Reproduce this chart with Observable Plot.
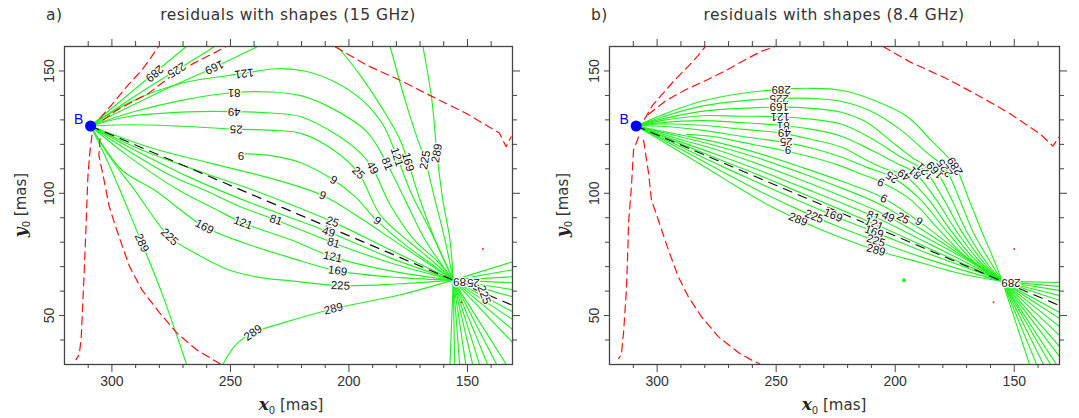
<!DOCTYPE html>
<html><head><meta charset="utf-8">
<script src="https://cdn.jsdelivr.net/npm/d3@7"></script>
<script src="https://cdn.jsdelivr.net/npm/@observablehq/plot@0.6"></script>
<style>
body{margin:0;background:#fff;}
#wrap{position:relative;width:1079px;height:418px;overflow:hidden;background:#fff;}
.panel{position:absolute;top:0;}
.t{position:absolute;top:6px;font-family:"DejaVu Sans",sans-serif;font-size:15.5px;letter-spacing:0.5px;color:#333;white-space:nowrap;z-index:2;}
.c{transform:translateX(-50%);}
.xl{position:absolute;top:394px;transform:translateX(-50%);font-family:"DejaVu Sans",sans-serif;font-size:15px;color:#333;white-space:nowrap;z-index:2;}
.yl{position:absolute;transform:translate(-50%,-50%) rotate(-90deg);font-family:"DejaVu Sans",sans-serif;font-size:15px;color:#333;white-space:nowrap;z-index:2;}
.v{font-family:"DejaVu Serif",serif;font-weight:bold;font-style:italic;font-size:17px;color:#222;}
sub{font-size:10px;}
</style></head>
<body>
<div id="wrap">
  <div id="pa" class="panel" style="left:0px"></div>
  <div id="pb" class="panel" style="left:540px"></div>
  <div class="t" style="left:46px">a)</div>
  <div class="t c" style="left:288px">residuals with shapes (15 GHz)</div>
  <div class="t" style="left:591px">b)</div>
  <div class="t c" style="left:834px">residuals with shapes (8.4 GHz)</div>
  <div class="xl" style="left:291px"><span class="v">x</span><sub>0</sub> [mas]</div>
  <div class="xl" style="left:834px"><span class="v">x</span><sub>0</sub> [mas]</div>
  <div class="yl" style="left:21px;top:205px"><span class="v">y</span><sub>0</sub> [mas]</div>
  <div class="yl" style="left:563px;top:205px"><span class="v">y</span><sub>0</sub> [mas]</div>
</div>
<script>
// ---------- axis ticks ----------
const majorX = [300, 250, 200, 150];
const minorX = [310, 290, 280, 270, 260, 240, 230, 220, 210, 190, 180, 170, 160, 140];
const majorY = [50, 100, 150];
const minorY = [40, 60, 70, 80, 90, 110, 120, 130, 140];

// ---------- special points ----------
const B_a = [309, 127.5], C_a = [156, 64.5];
const B_b = [308.8, 127.5], C_b = [155, 64];
const blackA = [[309, 127.5], [131, 54.2]];
const blackB = [[308.8, 127.5], [131, 54.1]];

// ---------- panel a: green contours (level, points) ----------
const greenA = [
  ["289", [[309,127.5],[268.6,160],[266,162]]],
  ["225", [[309,127.5],[285,143],[256.7,160],[254,162]]],
  ["169", [[309,127.5],[280,141.3],[256.8,151.5],[238.5,160],[235,161.5]]],
  ["121", [[309,127.5],[291.6,137.6],[270.6,145],[244.2,149],[230.8,150.9],[218.2,149.9],[205.7,145.4],[194.3,138],[185.5,127.8],[179.7,114.8],[173.4,99.3],[165.8,85],[156,64.5]]],
  ["81",  [[309,127.5],[291.6,133.1],[270.6,138],[248.4,141.2],[232.9,141.4],[220.3,139.9],[206.5,134.4],[192.3,125],[183.9,112],[176.3,97.3],[167.9,81],[156,64.5]]],
  ["49",  [[309,127.5],[292.9,131.4],[270.6,133.2],[248.4,133.4],[232.9,132.8],[220.3,131.3],[206.5,124.7],[195.2,116.5],[190.1,110.4],[182.6,95.3],[172.1,80.5],[163,72.5],[156,64.5]]],
  ["25",  [[309,127.5],[291.6,128],[270.6,127.4],[247.6,126.2],[232.9,125.8],[220.3,124.5],[206.5,117.7],[196,108.3],[186.8,91.2],[175,80.5],[165,72.5],[156,64.5]]],
  ["9",   [[245.5,116.2],[232.9,115.4],[220.3,112.5],[206.5,105.4],[197.3,98.5],[188.1,88.7],[176.3,78.9],[165.8,71.5],[156,64.5]]],
  ["9",   [[309,127.5],[283.2,118.5],[258.1,112.2],[232.9,106.1],[211.1,99.1],[195.2,89.9],[178.4,78.9],[165.8,70.8],[156,64.5]]],
  ["25",  [[309,127.5],[287.4,117.7],[262.3,108.7],[237.1,100.1],[206.9,88.3],[182.6,76.9],[156,64.5]]],
  ["49",  [[309,127.5],[289.5,117.2],[266.5,106.2],[241.3,96],[208.6,84.2],[182.6,73.6],[156,64.5]]],
  ["81",  [[309,127.5],[291.6,116.5],[274.8,107.1],[261,101.3],[245.5,94.4],[230.8,89.1],[206.5,79.7],[182.6,71.6],[156,64.5]]],
  ["121", [[309,127.5],[293.7,115.6],[271.9,101.3],[258.1,94.4],[244.7,87.9],[224.5,81],[206.9,74],[182.6,68.3],[156,64.5]]],
  ["169", [[309,127.5],[295.8,109.5],[282,101.3],[261,86.3],[244.2,79.7],[224.5,73.6],[204.8,68.3],[178.4,65.5],[156,64.5]]],
  ["225", [[309,127.5],[300,113.6],[290.4,101.3],[275.7,82.2],[265.2,75.7],[250.9,68.7],[237.1,65.5],[224.5,64.2],[203.6,62.2],[178.4,63],[156,64.5]]],
  ["289", [[309,127.5],[302.1,113.6],[296.6,101.3],[287.4,79.7],[279,59.4],[268.6,30.4],[268.1,29]]],
  ["289", [[253.8,29],[253,30.4],[247.6,38.2],[240.5,43],[227.5,47.1],[206.5,52.8],[178.4,58.5],[156,64.5]]],
  ["169", [[204.8,160],[195.2,148.2],[185.5,134],[178.4,121.8],[175.1,112.8],[170,97.3],[163.7,81],[156,64.5]]],
  ["225", [[182.6,160],[176.3,138],[170.9,121.7],[167.9,113.6],[163.7,97.3],[159.5,81],[156,64.5]]],
  ["289", [[168.8,160],[165,138],[162.9,116.4],[160.4,97.3],[157.4,81],[156,64.5]]]
];
// lines fanning out of the second convergence point, panel a (end points)
const fanA = [[131,72],[131,68.7],[131,65.9],[131,63.4],[131,60.6],[131,57.7],[131,51.6],[131,48.4],[131,44.3],[131,39],
  [133.6,30],[137.7,30],[141.5,30],[144.9,30],[147.8,30],[150.7,30],[153.3,30],[155.4,30],[157.4,30]];
// red dashed boundaries, panel a
const redA = [
  ["r1", [[305,130.7],[299.2,137.2],[293.3,144.1],[287.4,150.3],[283.2,156],[280.3,160]]],
  ["r2", [[303.8,129.9],[297.9,134],[292.5,136.8],[284.5,140.9],[274.8,148],[265.2,153.3],[256.8,157.4],[251.8,160]]],
  ["r3", [[205.7,159.8],[192.4,152.3],[178.4,146.2],[164.6,139.4],[150.4,132.6],[136.5,124.6],[133.7,119],[131.6,123.1]]],
  ["r4", [[308.4,123.8],[309.2,117.7],[310.1,107.5],[310.5,97.3],[311.3,76.9],[312.2,56.5],[313,40.2],[313.8,34.1],[315.1,32]]],
  ["r5", [[305,122.4],[305.5,115.6],[302.9,103.4],[301.3,95.2],[298.7,87.1],[295.8,78.9],[292.5,69.9],[287.4,60.6],[280.3,51.6],[272.7,43],[264.4,36.1],[256,31.2],[254,30]]]
];
const redDotsA = [[143.5,77.2],[152.5,55.4]];
// contour labels, panel a: x, y, text, rotation
const labelsA = [
  [282,149,"289",140],[272.7,150.4,"225",148],[256.8,151.5,"169",155],[244.2,149,"121",172],
  [248.4,141.2,"81",180],[248.4,133.4,"49",180],[247.6,126.2,"25",182],[245.5,115.5,"9",180],
  [206.5,105.4,"9",30],[196,108.3,"25",45],[190.1,110.4,"49",60],[183.9,112,"81",68],
  [179.7,114.8,"121",72],[175.1,112.8,"169",75],[167.9,113.6,"225",-80],[162.9,116.4,"289",-80],
  [211.1,99.1,"9",22],[188.1,88.7,"9",35],
  [206.9,88.3,"25",20],[208.6,84.2,"49",18],[206.5,79.7,"81",15],[206.9,74,"121",12],[204.8,68.3,"169",8],[203.6,62.2,"225",2],[206.5,52.8,"289",-14],
  [230.8,89.1,"81",18],[244.7,87.9,"121",20],[261,86.3,"169",28],[275.7,82.2,"225",45],[287.4,79.7,"289",66],
  [240.5,43,"289",-35],
  [152,63.8,"289",180],[147.5,63.3,"25",180],[143,58.5,"225",70]
];

// ---------- panel b ----------
const greenB = [
  ["289", [[308.8,127.5],[298.2,131.9],[281.4,137.6],[264.7,140.8],[247.9,142.5],[235.3,142.9],[222.7,142.1],[208.9,138],[194.6,131.1],[185,121.7],[174.9,111.1],[169,97.3],[163.9,85],[158.9,73.6],[155,64]]],
  ["225", [[308.8,127.5],[298.2,131.1],[281.4,135.6],[264.7,137.8],[247.9,138.8],[235.3,138.8],[222.7,137.6],[210.1,133.5],[197.6,125.8],[187.1,116.9],[179.1,110.3],[173.2,98.1],[167.3,84.2],[160.6,72.8],[155,64]]],
  ["169", [[308.8,127.5],[298.2,130.3],[281.4,133.5],[264.7,134.7],[247.9,135.2],[235.3,134.7],[222.7,133.1],[212.2,129.1],[199.7,119.7],[191.3,113.6],[183.3,109.5],[176.6,98.1],[169.9,84.2],[161.9,72],[155,64]]],
  ["121", [[308.8,127.5],[298.2,129.7],[281.4,131.7],[264.7,131.5],[247.9,131.3],[235.3,130.3],[222.7,128.3],[210.1,122.5],[197.6,114.8],[187.5,109.1],[180,98.1],[172,84.2],[163.1,72],[155,64]]],
  ["81",  [[308.8,127.5],[298.2,128.9],[281.4,129.7],[264.7,128.9],[247.9,127.8],[235.3,126.2],[222.7,123.3],[210.1,117.7],[199.7,112.4],[191.7,108.3],[183.3,98.1],[174.1,84.2],[164.4,72],[155,64]]],
  ["49",  [[308.8,127.5],[298.2,128.3],[281.4,127.8],[264.7,126.2],[247.9,124.6],[235.3,122.1],[222.7,118.9],[212.2,113.6],[203.9,109.9],[196.3,107.5],[186.6,98.1],[176.2,84.2],[165.6,72],[155,64]]],
  ["25",  [[308.8,127.5],[298.2,127.4],[281.4,125.8],[264.7,123.3],[247.9,121],[235.3,118.5],[222.7,114.8],[212.2,110.7],[201.3,106.6],[190.1,98.1],[178.2,84.2],[166.9,72],[155,64]]],
  ["9",   [[287.7,124.1],[277.2,123.3],[264.7,120.9],[247.9,117.7],[235.3,114.8],[222.7,111.1],[214.4,107.9],[206,104.6],[193.4,97.3],[180.8,84.2],[168.1,72],[155,64]]],
  ["9",   [[308.8,127.5],[289.8,123.8],[273,120.4],[256.3,116],[239.5,110.7],[222.7,105],[206,98.6],[189.2,87.9],[172.4,75.5],[155,64]]],
  ["25",  [[308.8,127.5],[289.8,123],[273,118.8],[256.3,114],[239.5,108.3],[222.7,102.2],[206,95.3],[189.2,85.4],[172.4,74.8],[155,64]]],
  ["49",  [[308.8,127.5],[289.8,121.9],[273,117.2],[256.3,111.5],[239.5,105.4],[222.7,98.9],[206,92],[189.2,83],[172.4,74.1],[155,64]]],
  ["81",  [[308.8,127.5],[289.8,120.9],[273,115.1],[256.3,109.1],[239.5,102.6],[222.7,96.1],[206,89.2],[189.2,81],[172.4,72.8],[155,64]]],
  ["121", [[308.8,127.5],[289.8,120.1],[273,113.5],[256.3,107],[239.5,100.1],[222.7,93.2],[206,86.3],[189.2,78.9],[172.4,71.6],[155,64]]],
  ["169", [[308.8,127.5],[289.8,118.9],[273,111.1],[256.3,103.8],[239.5,96.5],[222.7,89.6],[206,83.1],[189.2,76.5],[172.4,70.4],[155,64]]],
  ["225", [[308.8,127.5],[289.8,117.9],[273,109],[256.3,100.5],[239.5,92.8],[222.7,85.9],[206,79.8],[189.2,74],[172.4,68.8],[155,64]]],
  ["289", [[308.8,127.5],[289.8,116.6],[273,106.6],[256.3,96.8],[239.5,88.7],[222.7,81.8],[206,76.1],[189.2,71.6],[172.4,67.1],[155,64]]]
];
const fanB = [[131,63.5],[131,61.9],[131,60.3],[131,58.2],[131,56.2],[131,51.3],[131,48.8],[131,45.5],[131,41.9],[131,37.4],[131,33.3],
  [143.6,30],[140.6,30],[137.7,30],[134.8,30],[132.3,30]];
const redB = [
  ["r1", [[305.3,130.3],[301.9,136],[298.2,140.1],[292.7,146.2],[286.9,151.9],[282.7,156.4],[279.7,160]]],
  ["r2", [[303.6,132.3],[296.1,138],[287.7,142.5],[279.3,146.2],[270.9,150.3],[262.6,154.8],[256.3,158],[250.4,160]]],
  ["r3", [[205.1,160],[193.4,153.5],[178.7,147],[166.1,140.5],[152.7,133.1],[138.9,124.1],[133.8,119.3],[131.3,122.9]]],
  ["r4", [[307.8,123],[309.9,117.7],[310.8,102.6],[312,87.9],[312.3,76.9],[312.9,60.6],[314.1,43],[315,34.1],[316.2,32.4]]],
  ["r5", [[305.7,121.7],[303.6,108.3],[302.4,97.3],[299.5,89.1],[295.3,76.9],[291.1,65.9],[286.9,57.7],[281.4,49.6],[274.3,41.4],[265.9,34.9],[259.2,31.2],[257.1,30.4]]]
];
const redDotsB = [[150,77.2],[158.7,55.4]];
const greenDotsB = [[196.3,64.4]];
const labelsB = [
  [247.9,142.5,"289",180],[248.7,138.8,"225",180],[248.7,135.2,"169",180],[248.3,131.3,"121",180],
  [247,127.8,"81",180],[246.6,124.6,"49",180],[245.8,121,"25",180],[245,117.7,"9",180],
  [206,104.6,"9",207],[201.3,106.6,"25",215],[196.3,107.5,"49",218],[191.7,108.3,"81",222],
  [187.5,109.1,"121",225],[183.3,109.5,"169",228],[179.1,110.3,"225",234],[174.9,111.1,"289",238],
  [204.7,98,"9",205],
  [240.8,89.3,"289",22],[234,90.5,"225",22],[226.1,91,"169",22],[209.3,90.6,"81",22],[203,90.4,"49",25],[196.7,89.8,"25",28],[190,88.4,"9",32],
  [208.9,87.5,"121",22],[208.9,84.2,"169",20],[208.1,80.6,"225",18],[208.1,76.8,"289",15],
  [151.4,63.4,"289",180]
];

// ---------- drawing ----------
const GREEN = "#22f022";
function rows(list) {
  return list.flatMap(([lev, pts], i) => pts.map(([x, y]) => ({x, y, id: i, lev})));
}
function panel(o) {
  const P = d => d[0], Q = d => d[1];
  return Plot.plot({
    width: o.width, height: 418,
    marginTop: 46, marginBottom: 54, marginLeft: o.ml, marginRight: o.mr,
    style: {fontFamily: "'Liberation Sans', Arial, sans-serif", fontSize: "14px", color: "#333", background: "white", overflow: "visible"},
    x: {domain: [320, 131], axis: null, label: null},
    y: {domain: [30, 160], axis: null, label: null},
    marks: [
      Plot.line(rows(o.green), {x: "x", y: "y", z: "id", stroke: GREEN, strokeWidth: 1.15, curve: "catmull-rom", clip: true}),
      Plot.link(o.fan, {x1: () => o.C[0], y1: () => o.C[1], x2: P, y2: Q, stroke: GREEN, strokeWidth: 1.15, clip: true}),
      Plot.line(rows(o.red), {x: "x", y: "y", z: "id", stroke: "#ff1010", strokeWidth: 1.2, strokeDasharray: "8,5", clip: true}),
      Plot.line(o.black, {x: P, y: Q, stroke: "#111", strokeWidth: 1.2, strokeDasharray: "9,7", clip: true}),
      Plot.dot(o.redDots, {x: P, y: Q, r: 1, fill: "#ff2020"}),
      Plot.dot(o.greenDots || [], {x: P, y: Q, r: 2, fill: GREEN}),
      Plot.text(o.labels, {x: P, y: Q, text: d => d[2], rotate: d => d[3], fontSize: 11.5, fill: "#111", stroke: "white", strokeWidth: 2.5, clip: true}),
      Plot.dot([o.B], {x: P, y: Q, r: 5.5, fill: "#0000ff"}),
      Plot.text([o.B], {x: P, y: Q, text: () => "B", dx: -12, dy: -6, fill: "#0000ff", fontSize: 14}),
      Plot.frame({stroke: "#444", strokeWidth: 1.3}),
      Plot.axisX({anchor: "bottom", ticks: majorX, tickSize: 8, tickPadding: 4, label: null, stroke: "#444"}),
      Plot.axisX({anchor: "bottom", ticks: minorX, tickSize: 4, tickFormat: () => "", label: null, stroke: "#444"}),
      Plot.axisX({anchor: "top", ticks: majorX, tickSize: 8, tickFormat: () => "", label: null, stroke: "#444"}),
      Plot.axisX({anchor: "top", ticks: minorX, tickSize: 6, tickFormat: () => "", label: null, stroke: "#444"}),
      Plot.axisY({anchor: "left", ticks: majorY, tickSize: 5, tickPadding: 6, tickRotate: -90, label: null, stroke: "#444"}),
      Plot.axisY({anchor: "left", ticks: minorY, tickSize: 4, tickFormat: () => "", label: null, stroke: "#444"}),
      Plot.axisY({anchor: "right", ticks: majorY, tickSize: 7, tickFormat: () => "", label: null, stroke: "#444"}),
      Plot.axisY({anchor: "right", ticks: minorY, tickSize: 4, tickFormat: () => "", label: null, stroke: "#444"})
    ]
  });
}
document.getElementById("pa").append(panel({width: 540, ml: 64, mr: 28, green: greenA, fan: fanA, red: redA, black: blackA, redDots: redDotsA, labels: labelsA, B: B_a, C: C_a}));
document.getElementById("pb").append(panel({width: 539, ml: 69, mr: 20, green: greenB, fan: fanB, red: redB, black: blackB, redDots: redDotsB, greenDots: greenDotsB, labels: labelsB, B: B_b, C: C_b}));
</script>
</body></html>
